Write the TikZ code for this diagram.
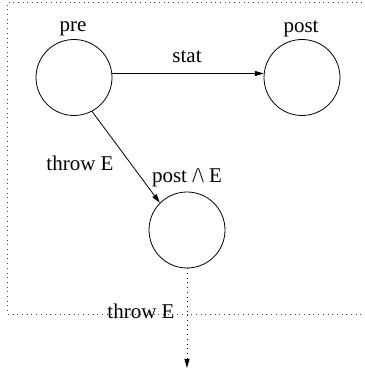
\documentclass[tikz,border=0pt]{standalone}
\usepackage{fontspec}
\setmainfont{Liberation Serif}
\usetikzlibrary{arrows.meta}
\tikzset{
  state/.style={draw, circle, minimum size=76pt, inner sep=0pt, line width=0.8pt},
  lbl/.style={anchor=base, inner sep=0pt, font=\fontsize{21}{25}\selectfont},
  arr/.style={line width=0.8pt, -{Triangle[length=9pt,width=5pt]}},
  dotline/.style={line width=0.9pt, black!75, dash pattern=on 1pt off 3.7pt},
}
\begin{document}
\begin{tikzpicture}[x=1pt,y=1pt]
\useasboundingbox (0,0) rectangle (364,369);
% dotted frame (open on the right)
\draw[dotline] (362,366.5) -- (7,366.5) -- (7,55) -- (362,55);
% states
\node[state] (pre) at (74,291.5) {};
\node[state] (post) at (302,291.5) {};
\node[state] (pe) at (187,139) {};
% labels
\node[lbl] (lpre) at (73,337) {pre};
\node[lbl] (lpost) at (301,336) {post};
\node[lbl] (lpe) at (187,186) {post /\textbackslash{} E};
\node[lbl] (lstat) at (187,306) {stat};
\node[lbl] (lthrow) at (80,198) {throw E};
\node[lbl] (lthrow2) at (141,50) {throw E};
% connectors
\coordinate (out) at (187,1);
\draw[arr] (pre.6) -- (post.174);
\draw[arr] (pre.-62) -- (pe.135);
\draw[dotline, -{Triangle[length=9pt,width=5pt]}, black] (pe.south) -- (out);
\end{tikzpicture}
\end{document}
